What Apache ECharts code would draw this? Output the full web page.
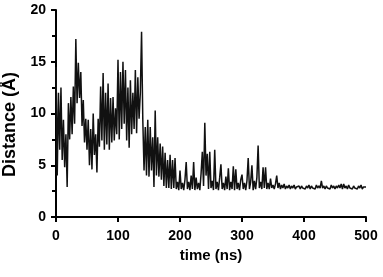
<!DOCTYPE html>
<html>
<head>
<meta charset="utf-8">
<script src="https://cdn.jsdelivr.net/npm/echarts@6/dist/echarts.min.js"></script>
<style>
  html, body { margin: 0; padding: 0; background: #fff; }
  #chart { width: 383px; height: 277px; }
</style>
</head>
<body>
<div id="chart"></div>
<script>
const timeStep = 2
const distEarly = [
  14.5, 4.0, 12.0, 6.5, 12.5, 5.5, 9.4, 4.8, 8.0, 2.9,
  11.0, 7.5, 11.6, 8.0, 12.6, 9.0, 17.2, 11.0, 14.9, 11.5,
  14.0, 8.8, 11.3, 7.2, 9.5, 6.5, 9.4, 5.0, 8.5, 4.6,
  10.0, 6.0, 8.0, 4.3, 9.5, 6.8, 12.6, 7.4, 13.9, 6.5,
  12.0, 7.0, 12.9, 6.5, 11.5, 7.2, 11.6, 7.4, 10.5, 8.0,
  15.2, 7.5, 14.0, 8.5, 15.0, 9.0, 14.2, 7.4, 12.5, 6.7,
  13.2, 8.0, 12.0, 8.5, 14.2, 8.1, 13.5, 9.5, 12.0, 17.9,
  9.4, 4.5, 8.7, 4.0, 9.4, 3.9, 8.7, 4.5, 7.7, 2.9,
  10.3, 4.0, 7.7, 3.9, 7.1, 3.6, 6.8, 3.0, 6.2, 2.8,
  5.5, 2.8, 6.0, 2.7, 5.5, 2.8
]
const distMid = [
  5.7, 2.7, 3.4, 2.6, 4.5, 2.7, 3.3, 2.6, 3.6, 5.3,
  2.7, 3.4, 2.6, 4.0, 2.7, 5.3, 2.6, 3.8, 2.7, 3.3,
  2.6, 4.2, 6.3, 3.0, 9.1, 4.0, 6.1, 2.7, 6.3, 2.8,
  3.5, 2.6, 6.5, 2.7, 3.4, 2.6, 3.8, 5.1, 2.7, 3.3,
  2.6, 3.9, 2.7, 4.7, 2.6, 3.4, 2.7, 4.9, 2.6, 4.6,
  2.7, 3.3, 2.6, 3.6, 4.1, 2.7, 3.3, 2.6, 3.5, 5.7,
  2.7, 3.4, 5.0, 2.6, 3.5, 2.7, 3.8, 6.9, 2.8, 3.4,
  2.7, 4.8, 2.8, 4.8, 2.7
]
const distLate = [
  3.3, 2.7, 3.7, 2.8, 3.1, 2.7, 3.2, 4.0, 2.8, 3.3,
  2.7, 3.1, 2.8, 3.2, 2.7, 3.0, 2.8, 3.1, 2.7, 3.0,
  2.8, 3.1, 2.7, 2.9, 2.8, 3.0, 2.7, 3.0, 2.8, 2.9,
  2.7, 3.0, 2.8, 3.1, 2.7, 3.0, 2.8, 2.9, 2.7, 3.1,
  2.8, 3.0, 2.8, 3.5, 2.8, 3.0, 2.7, 3.0, 2.8, 2.9,
  2.7, 3.1, 2.8, 3.0, 2.7, 3.0, 2.8, 3.1, 2.8, 3.2,
  2.7, 3.2, 2.8, 3.0, 2.7, 3.1, 2.8, 2.9, 2.7, 3.0,
  2.8, 2.9, 2.7, 3.0, 2.8, 3.1, 2.7, 2.9, 2.8, 2.9
]
const xTicks = [0, 100, 200, 300, 400, 500]
const yTicks = [0, 5, 10, 15, 20]

const distancia = distEarly.concat(distMid, distLate)
const dados = distancia.map((d, i) => [i * timeStep, d])

const fonte = 'Liberation Sans, Arial, sans-serif'

let option = {
  animation: false,
  grid: { left: 56, right: 17, top: 10, bottom: 60, containLabel: false, outerBoundsMode: 'none' },
  xAxis: {
    type: 'value',
    min: xTicks[0],
    max: xTicks[xTicks.length - 1],
    interval: 100,
    name: 'time (ns)',
    nameLocation: 'middle',
    nameGap: 31,
    nameTextStyle: { color: '#000', fontSize: 15, fontWeight: 'bold', fontFamily: fonte },
    axisLine: { show: true, lineStyle: { color: '#000', width: 2 } },
    axisTick: { show: true, length: 5, lineStyle: { color: '#000', width: 2 } },
    axisLabel: { color: '#000', fontSize: 14, fontWeight: 'bold', fontFamily: fonte, margin: 12 },
    splitLine: { show: false }
  },
  yAxis: {
    type: 'value',
    min: yTicks[0],
    max: yTicks[yTicks.length - 1],
    interval: 5,
    name: 'Distance (Å)',
    nameLocation: 'middle',
    nameGap: 33,
    nameTextStyle: { color: '#000', fontSize: 18, fontWeight: 'bold', fontFamily: fonte, padding: [0, 22, 0, 0] },
    axisLine: { show: true, lineStyle: { color: '#000', width: 2 } },
    axisTick: { show: true, length: 5, lineStyle: { color: '#000', width: 2 } },
    minorTick: { show: true, splitNumber: 2, length: 4, lineStyle: { color: '#000', width: 2 } },
    axisLabel: { color: '#000', fontSize: 14, fontWeight: 'bold', fontFamily: fonte, margin: 10 },
    splitLine: { show: false }
  },
  series: [{
    type: 'line',
    data: dados,
    showSymbol: false,
    lineStyle: { color: '#111', width: 1.5 }
  }]
}

const chart = echarts.init(document.getElementById('chart'))
chart.setOption(option)
</script>
</body>
</html>
